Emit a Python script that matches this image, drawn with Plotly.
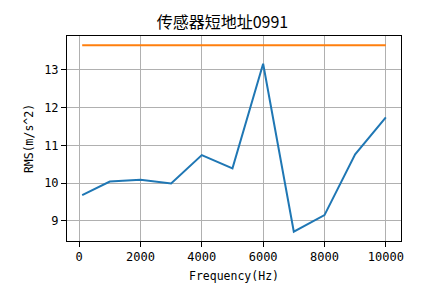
import plotly.graph_objects as go

freq = [100, 1000, 2000, 3000, 4000, 5000, 6000, 7000, 8000, 9000, 10000]
rms = [9.68, 10.04, 10.09, 9.99, 10.74, 10.39, 13.16, 8.71, 9.15, 10.76, 11.74]
limit_x = [100, 10000]
limit_y = [13.65, 13.65]

cjk = "Noto Sans CJK SC"
mono = "DejaVu Sans Mono"

fig = go.Figure()
fig.add_trace(go.Scatter(x=freq, y=rms, mode="lines", line=dict(color="#1f77b4", width=2)))
fig.add_trace(go.Scatter(x=limit_x, y=limit_y, mode="lines", line=dict(color="#ff7f0e", width=2)))

fig.update_layout(
    width=445, height=301,
    margin=dict(l=67, r=44, t=36, b=60),
    paper_bgcolor="white", plot_bgcolor="white",
    showlegend=False,
    font=dict(family=mono, size=12, color="black"),
    title=dict(text="传感器短地址0991", x=0.5, xanchor="center", y=1 - 22 / 301, yanchor="middle",
               font=dict(family=cjk, size=16, color="black")),
)
fig.update_xaxes(
    range=[-395, 10495], tickvals=[0, 2000, 4000, 6000, 8000, 10000],
    ticktext=["0", "2000", "4000", "6000", "8000", "10000"],
    tickfont=dict(family=mono, size=12),
    showgrid=True, gridcolor="#b0b0b0", gridwidth=1,
    showline=True, linecolor="black", linewidth=1, mirror=True,
    ticks="outside", ticklen=5, tickcolor="black", zeroline=False,
    title=dict(text="Frequency(Hz)", standoff=8, font=dict(family=mono, size=11.5)),
)
fig.update_yaxes(
    range=[8.465, 13.895], tickvals=[9, 10, 11, 12, 13],
    tickfont=dict(family=mono, size=12),
    showgrid=True, gridcolor="#b0b0b0", gridwidth=1,
    showline=True, linecolor="black", linewidth=1, mirror=True,
    ticks="outside", ticklen=5, tickcolor="black", zeroline=False,
    title=dict(text="RMS(m/s^2)", standoff=8, font=dict(family=mono, size=11.5)),
)

fig.write_html("out.html")
